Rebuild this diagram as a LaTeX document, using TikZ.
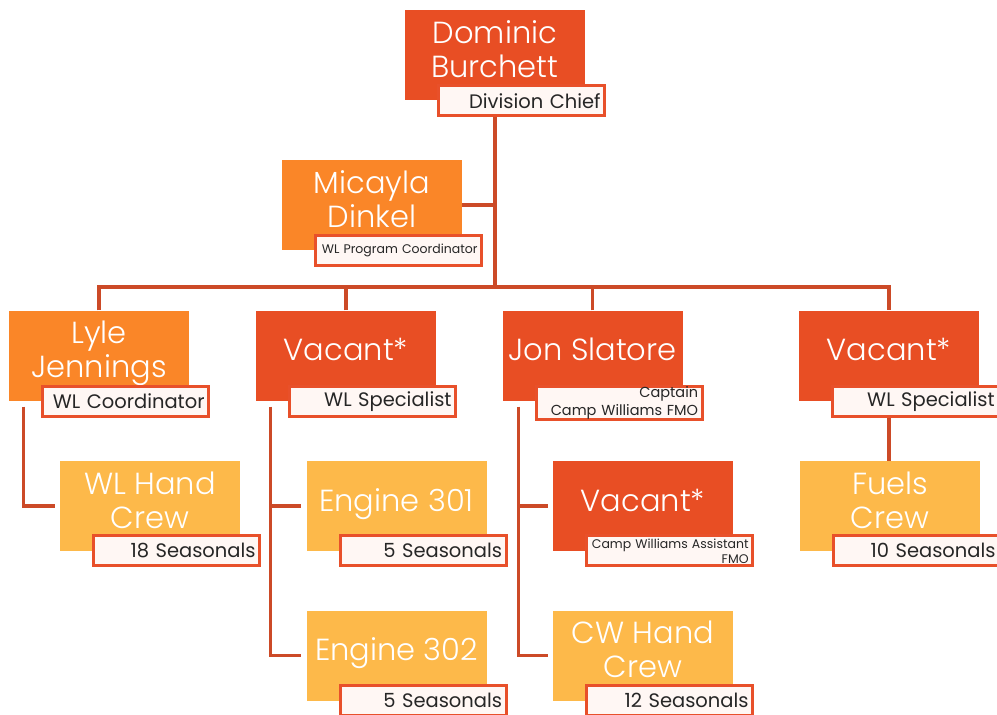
\documentclass[tikz,border=0pt]{standalone}
\usepackage{fontspec}
\setmainfont{Poppins}
\newfontfamily\namefont{Poppins}[UprightFont={* Light}]
\usetikzlibrary{backgrounds}

\definecolor{leadred}{HTML}{E84E24}
\definecolor{coordorange}{HTML}{FA8628}
\definecolor{crewyellow}{HTML}{FDB94A}
\definecolor{tagred}{HTML}{E8502A}
\definecolor{tagfill}{HTML}{FFF7F4}
\definecolor{linkred}{HTML}{CC4A27}

\begin{document}
\begin{tikzpicture}[
  x=1pt,y=-1pt,
  unit/.style={
    rectangle, inner sep=0pt,
    minimum width=180pt, minimum height=90pt,
    align=center, text=white, text depth=12pt,
    font=\namefont\fontsize{30.5}{34}\selectfont
  },
  lead/.style={unit, fill=leadred},
  coord/.style={unit, fill=coordorange},
  crew/.style={unit, fill=crewyellow},
  tag/.style={
    draw=tagred, line width=3.2pt, fill=tagfill,
    minimum width=166pt, minimum height=30pt,
    text width=158pt, inner xsep=3pt, inner ysep=0pt,
    align=right, anchor=north east, text=black!85,
    font=\fontsize{19.5}{21}\selectfont
  },
  smalltag/.style={tag, font=\fontsize{12.5}{15}\selectfont},
  twotag/.style={tag, font=\fontsize{14.5}{18}\selectfont},
  link/.style={draw=linkred, line width=3.2pt},
]
\useasboundingbox (0,0) rectangle (997,715);

% Top of the chart
\node[lead]  (dominic) at (495,55) {Dominic\\Burchett};
\node[coord] (micayla) at (372,205) {Micayla\\Dinkel};

% Second row
\node[coord] (lyle) at (99,355.5)  {Lyle\\Jennings};
\node[lead]  (vaca) at (346,355.5) {Vacant*};
\node[lead]  (jon)  at (592.5,355.5) {Jon Slatore};
\node[lead]  (vacb) at (889,355.5) {Vacant*};

% Crews
\node[crew] (wlcrew) at (150,506)   {WL Hand\\Crew};
\node[crew] (eng301) at (396.5,506) {Engine 301};
\node[crew] (eng302) at (396.5,655.5) {Engine 302};
\node[lead] (vacc)   at (643,506)   {Vacant*};
\node[crew] (cwcrew) at (643,655.5) {CW Hand\\Crew};
\node[crew] (fuels)  at (890,506)   {Fuels\\Crew};

% Title tags
\node[tag]      (dominic-t) at ([shift={(21,-16)}]dominic.south east) {Division Chief};
\node[smalltag] (micayla-t) at ([shift={(21,-16)}]micayla.south east) {WL Program Coordinator};
\node[tag]      (lyle-t)    at ([shift={(21,-16)}]lyle.south east) {WL Coordinator};
\node[tag]      (vaca-t)    at ([shift={(21,-16)}]vaca.south east) {WL Specialist};
\node[twotag]   (jon-t)     at ([shift={(21,-16)}]jon.south east) {Captain\\Camp Williams FMO};
\node[tag]      (vacb-t)    at ([shift={(21,-16)}]vacb.south east) {WL Specialist};
\node[tag]      (wlcrew-t)  at ([shift={(21,-17)}]wlcrew.south east) {18 Seasonals};
\node[tag]      (eng301-t)  at ([shift={(21,-17)}]eng301.south east) {5 Seasonals};
\node[tag]      (eng302-t)  at ([shift={(21,-17)}]eng302.south east) {5 Seasonals};
\node[smalltag] (vacc-t)    at ([shift={(21,-17)}]vacc.south east) {Camp Williams Assistant\\FMO};
\node[tag]      (cwcrew-t)  at ([shift={(21,-17)}]cwcrew.south east) {12 Seasonals};
\node[tag]      (fuels-t)   at ([shift={(21,-17)}]fuels.south east) {10 Seasonals};

% Connectors (under the boxes)
\begin{scope}[on background layer]
  \coordinate (bar) at (495,287);
  \draw[link] (dominic.south) -- (bar);
  \draw[link] (micayla.east) -- (micayla.east -| dominic.south);
  \draw[link] (lyle.north) |- (bar) -| (vacb.north);
  \draw[link] (vaca.north) -- (vaca.north |- bar);
  \draw[link] (jon.north) -- (jon.north |- bar);

  \coordinate (lyle-s) at ([xshift=15]lyle.south west);
  \coordinate (vaca-s) at ([xshift=15]vaca.south west);
  \coordinate (jon-s)  at ([xshift=16]jon.south west);
  \draw[link, shorten <=6pt, shorten >=5pt] (lyle-s) |- (wlcrew.west);
  \draw[link, shorten <=6pt, shorten >=5pt] (vaca-s) |- (eng302.west);
  \draw[link, shorten >=5pt] (vaca-s |- eng301.west) -- (eng301.west);
  \draw[link, shorten <=6pt, shorten >=5pt] (jon-s) |- (cwcrew.west);
  \draw[link, shorten >=5pt] (jon-s |- vacc.west) -- (vacc.west);
  \draw[link] (vacb-t.south -| vacb.south) -- (vacb.south |- fuels.north);
\end{scope}
\end{tikzpicture}
\end{document}
